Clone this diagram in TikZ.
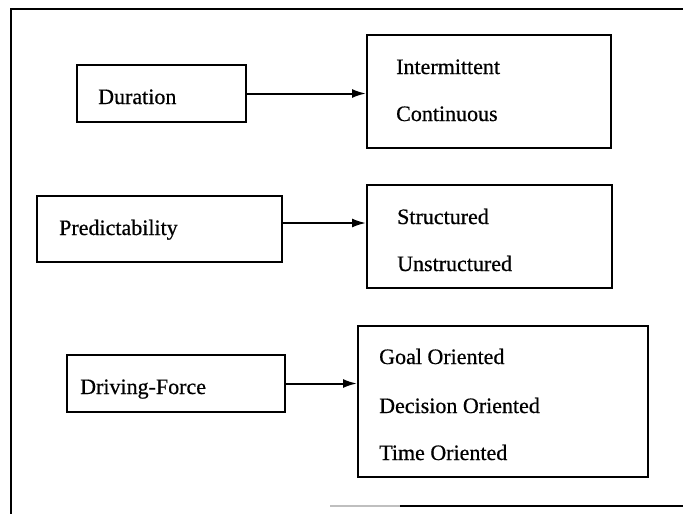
\documentclass[tikz,border=0pt]{standalone}
\usepackage{fontspec}
\setmainfont{Liberation Serif}
\newfontfamily\labelfont{Liberation Serif}[FakeBold=0.6]
\usetikzlibrary{arrows.meta}
\begin{document}
\begin{tikzpicture}[x=1pt,y=-1pt,
  frame/.style={line width=2pt},
  box/.style={draw, line width=2pt, rectangle, inner sep=0pt},
  lbl/.style={font=\labelfont\fontsize{22}{26}\selectfont, inner sep=0pt, anchor=base west},
  link/.style={line width=2pt, -{Latex[length=14pt,width=9pt]}}]
\useasboundingbox (0,0) rectangle (683,514);

% outer frame
\draw[frame] (683,9) -- (11,9) -- (11,514);
\draw[frame, black!25] (330,506) -- (400,506);
\draw[frame] (400,506) -- (683,506);

% attribute boxes
\node[box, minimum width=169pt, minimum height=57pt] (dur) at (161.5,93.5) {};
\node[box, minimum width=245pt, minimum height=66pt] (pred) at (159.5,229) {};
\node[box, minimum width=218pt, minimum height=57pt] (drv) at (176,383.5) {};

\node[lbl] (durT) at (98,104) {Duration};
\node[lbl] (predT) at (59,235) {Predictability};
\node[lbl] (drvT) at (80,394) {Driving-Force};

% value boxes
\node[box, minimum width=244pt, minimum height=113pt] (opt1) at (489,91.5) {};
\node[box, minimum width=245pt, minimum height=103pt] (opt2) at (489.5,236.5) {};
\node[box, minimum width=290pt, minimum height=151pt] (opt3) at (503,401.5) {};

\node[lbl] (o1a) at (396,74) {Intermittent};
\node[lbl] (o1b) at (396,121) {Continuous};
\node[lbl] (o2a) at (397,224) {Structured};
\node[lbl] (o2b) at (397,271) {Unstructured};
\node[lbl] (o3a) at (379,364) {Goal Oriented};
\node[lbl] (o3b) at (379,413) {Decision Oriented};
\node[lbl] (o3c) at (379,460) {Time Oriented};

% connectors
\draw[link] (dur.east) -- (dur.east -| opt1.west);
\draw[link] ([yshift=6pt]pred.east) -- ([yshift=6pt]pred.east -| opt2.west);
\draw[link] (drv.east) -- (drv.east -| opt3.west);
\end{tikzpicture}
\end{document}
